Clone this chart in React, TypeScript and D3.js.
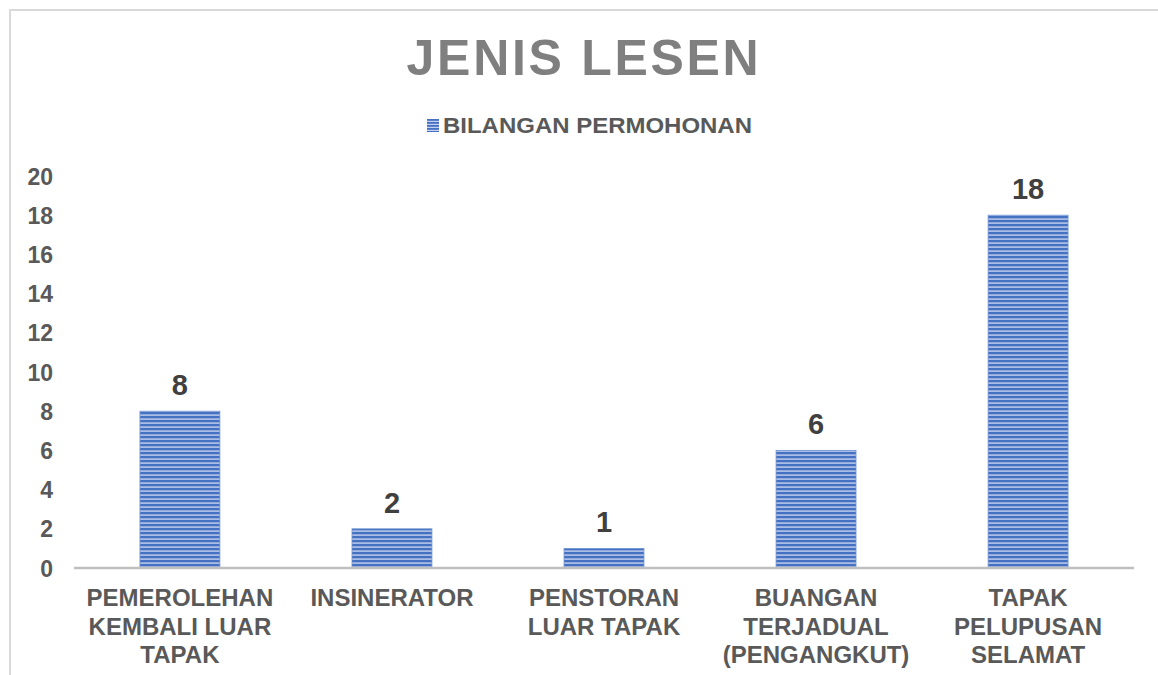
import React from "react";
import * as d3 from "d3";

const categories: string[][] = [
  ["PEMEROLEHAN", "KEMBALI LUAR", "TAPAK"],
  ["INSINERATOR"],
  ["PENSTORAN", "LUAR TAPAK"],
  ["BUANGAN", "TERJADUAL", "(PENGANGKUT)"],
  ["TAPAK", "PELUPUSAN", "SELAMAT"],
];
const values: number[] = [8, 2, 1, 6, 18];
const yTicks: number[] = [0, 2, 4, 6, 8, 10, 12, 14, 16, 18, 20];
const seriesName = "BILANGAN PERMOHONAN";
const title = "JENIS LESEN";

export default function App() {
  const W = 1158, H = 675;
  const left = 74, right = 1134, top = 176, bottom = 568;
  const x = d3.scaleBand<number>().domain(d3.range(values.length)).range([left, right]).paddingInner(0.623).paddingOuter(0.311);
  const y = d3.scaleLinear().domain([0, 20]).range([bottom, top]);
  const font = "Arial, 'Liberation Sans', sans-serif";
  return (
    <svg width={W} height={H} style={{ position: "absolute", left: 0, top: 0 }}>
      <defs>
        <pattern id="stripes" patternUnits="userSpaceOnUse" width={8} height={4}>
          <rect width={8} height={4} fill="#4671c3" />
          <rect y={2.4} width={8} height={1.4} fill="#c3d1ee" />
        </pattern>
        <pattern id="stripesSm" patternUnits="userSpaceOnUse" width={8} height={3} x={0} y={119}>
          <rect width={8} height={3} fill="#4671c3" />
          <rect y={1.8} width={8} height={1.2} fill="#c3d1ee" />
        </pattern>
      </defs>
      <rect x={0} y={0} width={W} height={H} fill="#fff" />
      <rect x={10} y={10} width={W + 20} height={H + 20} fill="#fff" stroke="#d9d9d9" strokeWidth={2} />
      <text x={584} y={75} textAnchor="middle" fontFamily={font} fontWeight="bold" fontSize={50} letterSpacing={2.7} fill="#7f7f7f">{title}</text>
      <rect x={427} y={119} width={12} height={13} fill="url(#stripesSm)" />
      <text x={443} y={133} fontFamily={font} fontWeight="bold" fontSize={21.5} textLength={309} lengthAdjust="spacingAndGlyphs" fill="#595959">{seriesName}</text>
      {yTicks.map((t) => (
        <text key={t} x={53} y={y(t) + 8.5} textAnchor="end" fontFamily={font} fontWeight="bold" fontSize={23} fill="#595959">{t}</text>
      ))}
      {values.map((v, i) => (
        <g key={i}>
          <rect x={x(i)} y={y(v)} width={x.bandwidth()} height={bottom - y(v)} fill="url(#stripes)" stroke="#6f93d3" strokeWidth={0.8} />
          <text x={(x(i) as number) + x.bandwidth() / 2} y={y(v) - 16} textAnchor="middle" fontFamily={font} fontWeight="bold" fontSize={29} fill="#404040">{v}</text>
          {categories[i].map((line, j) => (
            <text key={j} x={(x(i) as number) + x.bandwidth() / 2} y={606 + j * 28.7} textAnchor="middle" fontFamily={font} fontWeight="bold" fontSize={24} fill="#595959">{line}</text>
          ))}
        </g>
      ))}
      <line x1={left} x2={right} y1={bottom} y2={bottom} stroke="#bfbfbf" strokeWidth={2.5} />
    </svg>
  );
}
